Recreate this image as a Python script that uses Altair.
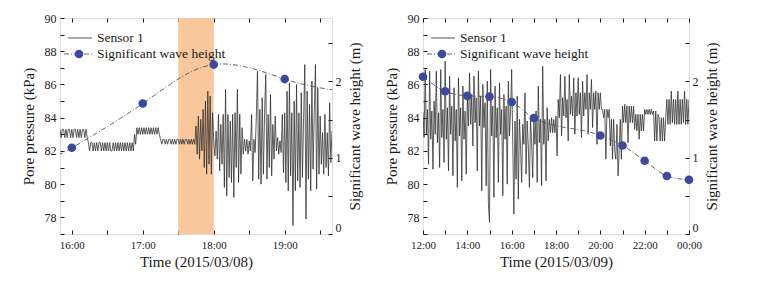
import altair as alt
import pandas as pd

FONT = "Liberation Serif, Times New Roman, serif"
INK = "#1a1a1a"
SENSOR_COLOR = "#2a2a2a"
CURVE_COLOR = "#555555"
POINT_COLOR = "#3b4a9e"
BAND_COLOR = "#f8c89c"

# ---------------- left panel (2015/03/08): one sample per minute from 15:50 ----------------
L_START_H = 15 + 50 / 60
L_STEP_MIN = 1
l_seg_a = [83.3, 82.8, 83.3, 83.3, 82.8, 83.3, 82.8, 83.3, 83.3, 82.8, 83.3, 82.8,
           83.3, 83.3, 82.8, 83.3, 82.8, 83.3, 82.8, 83.3, 83.3, 82.8, 83.3, 82.8]
l_seg_b = [82.5, 82.0, 82.5, 82.5, 82.0, 82.5, 82.0, 82.5, 82.0, 82.5, 82.5, 82.0, 82.5,
           82.0, 82.5, 82.0, 82.5, 82.0, 82.5, 82.0, 82.0, 82.5, 82.0, 82.5, 82.0, 82.5,
           82.0, 82.5, 82.0, 82.5, 82.0, 82.5, 82.0, 82.5, 82.0, 82.5, 82.0, 82.5, 82.0]
l_seg_c = [83.0, 82.4, 83.4, 83.0, 83.4, 83.0, 83.4, 83.0, 83.4, 83.0, 83.4,
           83.0, 83.4, 83.0, 83.4, 83.0, 83.4, 83.0, 83.4, 83.0, 83.4, 83.0]
l_seg_d = [82.7, 82.4, 82.7, 82.7, 82.4, 82.7, 82.4, 82.7, 82.7, 82.4, 82.7, 82.4, 82.7, 82.4, 82.7,
           82.7, 82.4, 82.7, 82.4, 82.7, 82.4, 82.7, 82.7, 82.4, 82.7, 82.4, 82.7, 82.4, 82.7, 82.4]
l_seg_e = [83.5, 81.8, 84.1, 81.5, 83.9, 82.0, 84.5, 81.0, 85.0, 80.6, 85.6, 81.2, 85.3, 80.6, 84.3]
l_seg_f = [82.6, 81.7, 83.2, 81.5, 84.2, 80.8, 83.6, 81.2, 84.2, 79.8,
           85.7, 79.3, 84.2, 80.4, 83.8, 80.1, 84.2, 79.2, 84.3, 81.0,
           85.7, 80.1, 84.2, 80.6, 83.4, 81.8, 82.7, 82.0, 82.7, 81.8,
           82.6, 82.0, 84.2, 80.2, 82.7, 81.9, 84.0, 86.8, 80.3, 84.5,
           80.0, 85.2, 80.6, 84.3, 86.6, 80.3, 84.2, 81.0, 85.4, 80.5,
           83.6, 81.5, 84.1, 82.0, 82.8, 81.8, 82.6, 81.9, 84.2, 80.7,
           84.3, 80.1, 85.6, 79.6, 86.1, 80.5, 84.3, 77.5, 85.0, 79.6,
           86.0, 80.2, 84.3, 79.8, 85.5, 80.4, 84.0, 87.2, 77.9, 85.6,
           80.3, 84.8, 79.6, 86.2, 80.9, 84.3, 87.2, 79.7, 85.8, 80.6,
           84.1, 81.2, 83.1, 80.6, 84.2, 81.0, 83.1, 80.5, 84.9, 81.3, 83.2]
left_pressure = l_seg_a + l_seg_b + l_seg_c + l_seg_d + l_seg_e + l_seg_f

left_wave_hours = [16, 17, 18, 19]
left_wave = [1.13, 1.71, 2.22, 2.03]
left_curve_hours = [15.8333, 16, 17, 18, 19, 19.6667]
left_curve = [1.06, 1.13, 1.71, 2.22, 2.03, 1.89]
left_band = [17.5, 18.0]
left_domain = [15.8333, 19.6667]
left_ticks = [16, 16.5, 17, 17.5, 18, 18.5, 19, 19.5]

# ---------------- right panel (2015/03/09): one sample every 3 minutes from 12:00 ----------------
R_START_H = 12
R_STEP_MIN = 3
r_h12 = [84.3, 82.8, 86.9, 83.0, 84.5, 81.2, 86.8, 82.7, 84.4, 80.9, 85.0, 83.0, 86.8, 82.5, 84.3, 81.0, 86.9, 82.8, 84.5, 81.3]
r_h13 = [87.4, 82.7, 84.6, 80.8, 86.5, 83.0, 84.7, 80.5, 85.8, 82.6, 84.5, 79.8, 86.4, 82.9, 84.6, 80.2, 85.9, 82.7, 84.4, 80.6]
r_h14 = [85.3, 83.5, 86.7, 83.6, 85.4, 82.3, 86.5, 83.7, 85.2, 80.8, 86.8, 83.5, 85.3, 79.6, 86.0, 83.4, 84.9, 79.9, 86.2, 78.8]
r_h15 = [77.7, 86.9, 82.9, 84.7, 79.2, 85.9, 82.8, 84.6, 80.1, 86.1, 83.0, 84.5, 79.3, 85.4, 82.7, 84.7, 80.0, 86.2, 82.9, 84.4]
r_h16 = [86.9, 82.4, 78.2, 83.8, 80.3, 85.3, 79.1, 83.9, 82.3, 80.1, 83.6, 82.4, 85.5, 80.6, 83.8, 82.3, 79.8, 83.9, 82.5, 80.4]
r_h17 = [83.8, 82.4, 84.4, 80.1, 85.9, 82.5, 83.9, 79.9, 87.1, 82.4, 83.9, 80.2, 84.6, 82.6, 83.9, 83.1, 84.0, 83.1, 83.9, 83.1]
r_h18 = [84.1, 81.7, 85.1, 84.0, 86.6, 82.9, 85.2, 84.1, 86.5, 84.0, 85.1, 82.6, 86.6, 84.2, 85.3, 84.1, 86.4, 83.0, 85.5, 84.1]
r_h19 = [86.4, 84.2, 85.5, 82.8, 86.2, 84.1, 85.5, 84.5, 86.6, 83.0, 85.5, 84.5, 86.3, 83.4, 85.5, 84.5, 85.6, 82.4, 85.5, 84.5]
r_h20 = [85.5, 84.5, 84.5, 84.0, 84.5, 81.5, 84.5, 84.0, 84.5, 82.3, 83.9, 81.5, 83.9, 82.0, 81.5, 83.6, 80.5, 82.0, 83.9, 81.5]
r_h21 = [84.7, 83.7, 84.8, 83.7, 84.7, 82.5, 84.7, 83.7, 84.7, 83.7, 84.7, 83.3, 84.2, 83.2, 84.2, 82.7, 84.2, 83.2, 84.2, 83.2]
r_h22 = [84.5, 84.2, 84.5, 84.2, 84.5, 84.2, 84.5, 84.2, 84.4, 82.6, 84.4, 82.6, 84.2, 84.0, 82.6, 84.0, 82.6, 84.0, 82.6, 84.0]
r_h23 = [85.1, 83.6, 85.1, 83.6, 85.6, 83.7, 85.1, 83.6, 85.1, 83.6, 85.6, 83.6, 85.1, 83.6, 85.1, 83.7, 85.6, 83.6, 85.1, 83.6]
r_end = [85.1]
right_pressure = r_h12 + r_h13 + r_h14 + r_h15 + r_h16 + r_h17 + r_h18 + r_h19 + r_h20 + r_h21 + r_h22 + r_h23 + r_end

right_wave_hours = [12, 13, 14, 15, 16, 17, 20, 21, 22, 23, 24]
right_wave = [2.06, 1.87, 1.81, 1.80, 1.73, 1.52, 1.29, 1.16, 0.96, 0.76, 0.71]
right_domain = [12, 24]
right_ticks = list(range(12, 25))

pressure_ticks = list(range(77, 91))
wave_ticks = [0, 0.5, 1, 1.5, 2, 2.5]
PRESSURE_DOMAIN = [77, 90]
WAVE_DOMAIN = [0, 2.83]


def axis_style(label_size=12, flush=False):
    return dict(offset=-4, tickSize=4, domain=False, grid=False, tickColor=INK,
                labelFont=FONT, titleFont=FONT, labelColor=INK, titleColor=INK,
                titleFontWeight="normal", labelFontSize=label_size, titleFontSize=15,
                labelFlush=flush)


def make_panel(press, start_h, step_min, wave_h, wave_v, curve_h, curve_v,
               xdom, xticks, label_step, xtitle, width, height, curve_interp, band=None):
    dfp = pd.DataFrame({"t": [start_h + i * step_min / 60 for i in range(len(press))], "p": press})
    dfw = pd.DataFrame({"t": wave_h, "w": wave_v})
    dfc = pd.DataFrame({"t": curve_h, "w": curve_v})
    one = pd.DataFrame({"k": [0]})

    xscale = alt.Scale(domain=xdom, nice=False, zero=False)
    pscale = alt.Scale(domain=PRESSURE_DOMAIN, nice=False, zero=False)
    wscale = alt.Scale(domain=WAVE_DOMAIN, nice=False, zero=False)

    xlabel = ("(abs(datum.value % " + str(label_step) + ") < 0.001) ? "
              "(((datum.value % 24) < 10 ? '0' : '') + (datum.value % 24) + ':00') : ''")
    bottom_axis = alt.Axis(values=xticks, labelExpr=xlabel, title=xtitle, orient="bottom",
                           labelPadding=5, titlePadding=4, **axis_style(11))
    top_axis = alt.Axis(values=xticks, labels=False, title="", orient="top", titlePadding=0, **axis_style())
    left_axis = alt.Axis(values=pressure_ticks, title="Pore pressure (kPa)", orient="left",
                         labelExpr="datum.value % 2 === 0 ? '' + datum.value : ''",
                         labelPadding=4, titlePadding=8, **axis_style())
    right_axis = alt.Axis(values=wave_ticks, title="Significant wave height (m)", orient="right",
                          labelExpr="datum.value % 1 === 0 ? '' + datum.value : ''",
                          labelPadding=3, titlePadding=6, titleAngle=270, titleBaseline="top",
                          **axis_style(12, True))

    layers = []
    if band is not None:
        dfb = pd.DataFrame({"a": [band[0]], "b": [band[1]]})
        layers.append(alt.Chart(dfb).mark_rect(color=BAND_COLOR).encode(
            x=alt.X("a:Q", scale=xscale, axis=None), x2="b:Q"))
    layers.append(alt.Chart(dfp).mark_line(color=SENSOR_COLOR, strokeWidth=0.75, clip=True).encode(
        x=alt.X("t:Q", scale=xscale, axis=bottom_axis),
        y=alt.Y("p:Q", scale=pscale, axis=left_axis)))
    layers.append(alt.Chart(dfc).mark_line(color=CURVE_COLOR, strokeWidth=0.9, strokeDash=[5, 2, 1, 2],
                                           interpolate=curve_interp, clip=True).encode(
        x=alt.X("t:Q", scale=xscale, axis=top_axis),
        y=alt.Y("w:Q", scale=wscale, axis=right_axis)))
    layers.append(alt.Chart(dfw).mark_circle(size=75, color=POINT_COLOR, opacity=1).encode(
        x=alt.X("t:Q", scale=xscale, axis=None),
        y=alt.Y("w:Q", scale=wscale, axis=None)))
    # legend
    layers.append(alt.Chart(one).mark_rule(color=SENSOR_COLOR, strokeWidth=0.8).encode(
        x=alt.value(8), x2=alt.value(32), y=alt.value(20)))
    layers.append(alt.Chart(one).mark_text(align="left", baseline="middle", font=FONT, fontSize=13.5, color=INK).encode(
        x=alt.value(37), y=alt.value(20), text=alt.value("Sensor 1")))
    layers.append(alt.Chart(one).mark_rule(color=CURVE_COLOR, strokeWidth=0.9, strokeDash=[5, 2, 1, 2]).encode(
        x=alt.value(4), x2=alt.value(33), y=alt.value(36)))
    layers.append(alt.Chart(one).mark_circle(size=75, color=POINT_COLOR, opacity=1).encode(
        x=alt.value(19), y=alt.value(36)))
    layers.append(alt.Chart(one).mark_text(align="left", baseline="middle", font=FONT, fontSize=13.5, color=INK).encode(
        x=alt.value(37), y=alt.value(36), text=alt.value("Significant wave height")))

    return alt.layer(*layers).resolve_scale(y="independent").resolve_axis(x="independent").properties(
        width=width, height=height)


left = make_panel(left_pressure, L_START_H, L_STEP_MIN, left_wave_hours, left_wave,
                  left_curve_hours, left_curve, left_domain, left_ticks, 1,
                  "Time (2015/03/08)", 272, 216, "natural", band=left_band)
right = make_panel(right_pressure, R_START_H, R_STEP_MIN, right_wave_hours, right_wave,
                   right_wave_hours, right_wave, right_domain, right_ticks, 2,
                   "Time (2015/03/09)", 266, 216, "monotone")

chart = alt.hconcat(left, right, spacing=20).configure_view(
    stroke=INK, strokeWidth=1).configure_axis(labelFont=FONT, titleFont=FONT).configure_text(
    font=FONT).configure(
    padding={"left": 12, "top": 3, "right": 5, "bottom": 5}, background="white")

chart.save("out.html", embed_options={"renderer": "svg", "actions": False})
